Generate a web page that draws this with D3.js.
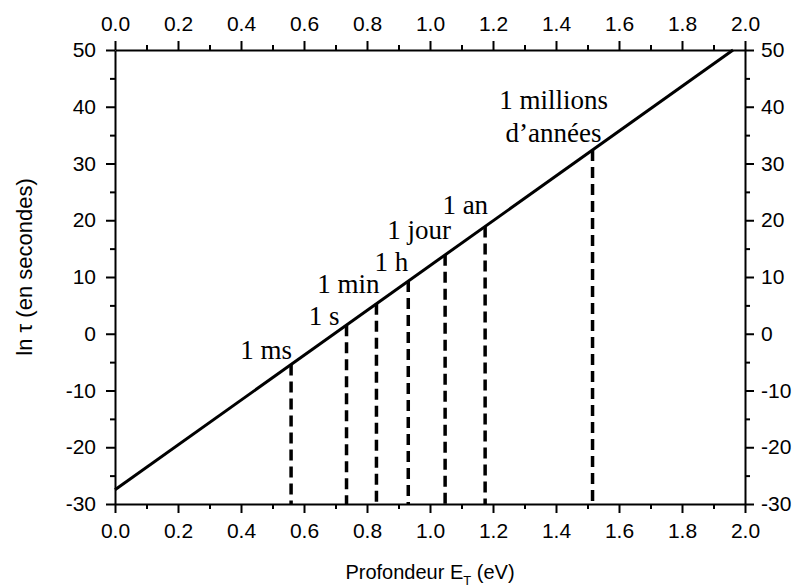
<!DOCTYPE html>
<html>
<head>
<meta charset="utf-8">
<script src="https://cdn.jsdelivr.net/npm/d3@7"></script>
<style>
  body { margin: 0; background: #fff; }
  svg { display: block; }
  .axis path, .axis line { stroke: #000; stroke-width: 2; }
  .axis text { font-family: "Liberation Sans", Arial, sans-serif; font-size: 21px; fill: #000; }
  .note { font-family: "Liberation Serif", "Times New Roman", serif; font-size: 27px; fill: #000; }
</style>
</head>
<body>
<div id="chart"></div>
<script>
// Straight line ln(tau) versus trap depth (eV)
const lineE = [0, 1.962];
const lineLnTau = [-27.5, 50];

// Dashed markers: depth and ln(tau) where they hit the line
const markerLabels = ["1 ms", "1 s", "1 min", "1 h", "1 jour", "1 an", "1 millions\nd\u2019ann\u00e9es"];
const markerE = [0.559, 0.735, 0.830, 0.931, 1.048, 1.175, 1.516];
const markerLnTau = [-5.4, 1.5, 5.3, 9.3, 13.9, 18.9, 32.4];

// Axis ticks
const xTicks = [0, 0.2, 0.4, 0.6, 0.8, 1.0, 1.2, 1.4, 1.6, 1.8, 2.0];
const xMinor = [0.1, 0.3, 0.5, 0.7, 0.9, 1.1, 1.3, 1.5, 1.7, 1.9];
const yTicks = [-30, -20, -10, 0, 10, 20, 30, 40, 50];
const yMinor = [-25, -15, -5, 5, 15, 25, 35, 45];

const W = 797, H = 587;
const margin = { top: 50, right: 52, bottom: 83, left: 115 };

const svg = d3.select("#chart").append("svg")
  .attr("width", W)
  .attr("height", H);

const x = d3.scaleLinear().domain([0, 2]).range([margin.left, W - margin.right]);
const y = d3.scaleLinear().domain([-30, 50]).range([H - margin.bottom, margin.top]);

// minor ticks first, then major axes on top
function minor(axis, vals, transform) {
  svg.append("g")
    .attr("class", "axis")
    .attr("transform", transform)
    .call(axis.tickValues(vals).tickSize(5).tickFormat(""))
    .select(".domain").remove();
}
minor(d3.axisBottom(x), xMinor, `translate(0,${y(-30)})`);
minor(d3.axisTop(x), xMinor, `translate(0,${y(50)})`);
minor(d3.axisLeft(y), yMinor, `translate(${x(0)},0)`);
minor(d3.axisRight(y), yMinor, `translate(${x(2)},0)`);

const fmtX = d3.format(".1f");
const fmtY = d => String(d);   // plain hyphen for negatives, like the original
svg.append("g").attr("class", "axis")
  .attr("transform", `translate(0,${y(-30)})`)
  .call(d3.axisBottom(x).tickValues(xTicks).tickFormat(fmtX).tickSize(9).tickSizeOuter(0).tickPadding(10));
svg.append("g").attr("class", "axis")
  .attr("transform", `translate(0,${y(50)})`)
  .call(d3.axisTop(x).tickValues(xTicks).tickFormat(fmtX).tickSize(9).tickSizeOuter(0).tickPadding(10));
svg.append("g").attr("class", "axis")
  .attr("transform", `translate(${x(0)},0)`)
  .call(d3.axisLeft(y).tickValues(yTicks).tickFormat(fmtY).tickSize(9).tickSizeOuter(0).tickPadding(10));
svg.append("g").attr("class", "axis")
  .attr("transform", `translate(${x(2)},0)`)
  .call(d3.axisRight(y).tickValues(yTicks).tickFormat(fmtY).tickSize(9).tickSizeOuter(0).tickPadding(7));

// dashed verticals
const markers = markerLabels.map((t, i) => ({ label: t, e: markerE[i], v: markerLnTau[i] }));
svg.selectAll(".drop")
  .data(markers)
  .join("line")
  .attr("class", "drop")
  .attr("x1", d => x(d.e))
  .attr("x2", d => x(d.e))
  .attr("y1", d => y(d.v))
  .attr("y2", y(-30))
  .attr("stroke", "#000")
  .attr("stroke-width", 3.5)
  .attr("stroke-dasharray", "11,6");

// main line
svg.append("path")
  .datum(lineE.map((e, i) => [e, lineLnTau[i]]))
  .attr("fill", "none")
  .attr("stroke", "#000")
  .attr("stroke-width", 3)
  .attr("d", d3.line().x(d => x(d[0])).y(d => y(d[1])));

// label offsets from the top of each dashed line (px)
const labelDx = [1, -7, 3, 0, 6, 3, -39];
const labelDy = [-5, 0, -11, -10, -16, -12, -41];
const notes = svg.selectAll(".note")
  .data(markers)
  .join("text")
  .attr("class", "note")
  .attr("text-anchor", (d, i) => i === 6 ? "middle" : "end")
  .attr("transform", (d, i) => `translate(${x(d.e) + labelDx[i]},${y(d.v) + labelDy[i]})`);
notes.selectAll("tspan")
  .data(d => d.label.split("\n"))
  .join("tspan")
  .attr("x", 0)
  .attr("dy", (d, i) => i === 0 ? 0 : 33)
  .text(d => d);

// axis titles
const xt = svg.append("text")
  .attr("x", 430)
  .attr("y", 579)
  .attr("text-anchor", "middle")
  .style("font-family", "'Liberation Sans', Arial, sans-serif")
  .style("font-size", "20px");
xt.append("tspan").text("Profondeur E");
xt.append("tspan").attr("dy", 6).style("font-size", "13px").text("T");
xt.append("tspan").attr("dy", -6).text(" (eV)");

svg.append("text")
  .attr("transform", `translate(32,267) rotate(-90)`)
  .attr("text-anchor", "middle")
  .style("font-family", "'Liberation Sans', Arial, sans-serif")
  .style("font-size", "22px")
  .text("ln \u03c4 (en secondes)");
</script>
</body>
</html>
